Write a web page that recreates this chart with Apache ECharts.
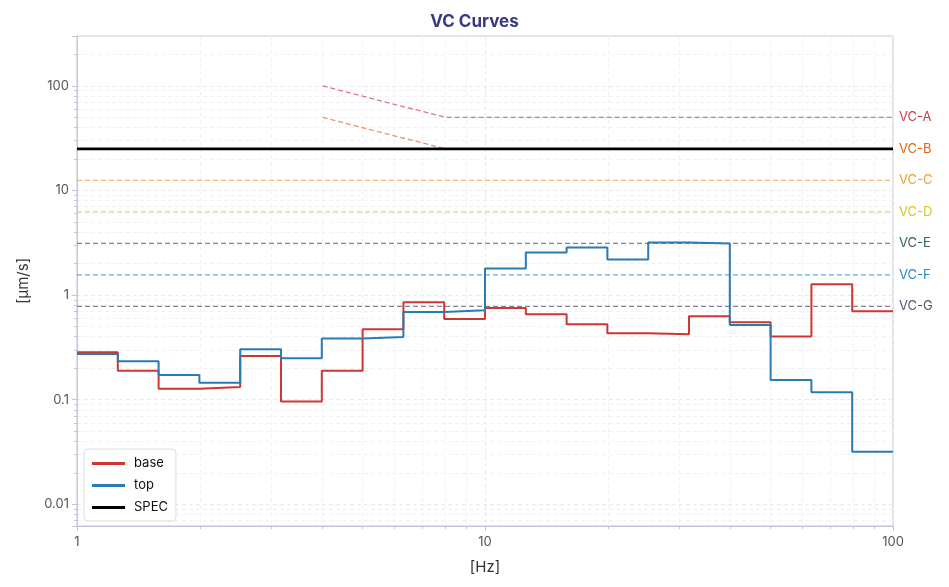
<!DOCTYPE html>
<html>
<head>
<meta charset="utf-8">
<script src="https://cdn.jsdelivr.net/npm/echarts@6/dist/echarts.min.js"></script>
<style>
  html, body { margin: 0; padding: 0; background: #fff; }
  #main { width: 949px; height: 587px; }
</style>
</head>
<body>
<div id="main"></div>
<script>
// 1/3 octave band edges [Hz]
var bandEdges = [1, 1.259, 1.585, 1.995, 2.512, 3.162, 3.981, 5.012, 6.31, 7.943,
  10, 12.59, 15.85, 19.95, 25.12, 31.62, 39.81, 50.12, 63.1, 79.43, 100];
// band values [um/s]
var baseVals = [0.284, 0.189, 0.127, 0.132, 0.261, 0.096, 0.189, 0.471, 0.852, 0.59,
  0.752, 0.655, 0.526, 0.432, 0.423, 0.627, 0.55, 0.401, 1.27, 0.699];
var topVals = [0.274, 0.233, 0.172, 0.145, 0.304, 0.249, 0.384, 0.398, 0.689, 0.715,
  1.795, 2.55, 2.85, 2.19, 3.18, 3.11, 0.518, 0.154, 0.118, 0.0318];
var specLine = [[1, 25], [100, 25]];

// VC criteria
var vcNames = ['VC-A', 'VC-B', 'VC-C', 'VC-D', 'VC-E', 'VC-F', 'VC-G'];
var vcColors = ['#c8404a', '#e0651a', '#f0a030', '#d4c428', '#2f6450', '#2a88c8', '#5a5070'];
var vcA = [[4, 100], [8, 50], [100, 50]];
var vcB = [[4, 50], [8, 25], [100, 25]];
var vcC = [[1, 12.5], [100, 12.5]];
var vcD = [[1, 6.25], [100, 6.25]];
var vcE = [[1, 3.125], [100, 3.125]];
var vcF = [[1, 1.5625], [100, 1.5625]];
var vcG = [[1, 0.78], [100, 0.78]];
var vcData = [vcA, vcB, vcC, vcD, vcE, vcF, vcG];

function steps(vals) {
  var pts = [];
  for (var i = 0; i < bandEdges.length; i++) {
    pts.push([bandEdges[i], vals[Math.min(i, vals.length - 1)]]);
  }
  return pts;
}

var myChart = echarts.init(document.getElementById('main'));

var series = [];
vcNames.forEach(function (name, i) {
  series.push({
    name: name,
    type: 'line',
    data: vcData[i],
    symbol: 'none',
    silent: true,
    z: 1,
    lineStyle: { color: vcColors[i], opacity: 0.7, width: 1.3, type: [5, 3] },
    endLabel: {
      show: true,
      formatter: name,
      color: vcColors[i],
      fontSize: 13,
      fontFamily: 'Inter',
      distance: 6
    }
  });
});
series.push({
  name: 'SPEC', type: 'line', data: specLine, symbol: 'none', z: 3,
  lineStyle: { color: '#000', width: 2.6 }, itemStyle: { color: '#000' }
});
series.push({
  name: 'base', type: 'line', step: 'end', data: steps(baseVals), symbol: 'none', z: 4,
  lineStyle: { color: '#d03535', width: 2 }, itemStyle: { color: '#d03535' }
});
series.push({
  name: 'top', type: 'line', step: 'end', data: steps(topVals), symbol: 'none', z: 5,
  lineStyle: { color: '#2a7ab3', width: 2 }, itemStyle: { color: '#2a7ab3' }
});

var axisColor = '#c4c4d8';
var option = {
  animation: false,
  textStyle: { fontFamily: 'Inter' },
  title: {
    text: 'VC Curves',
    left: 'center', top: 8,
    textStyle: { fontSize: 17, fontWeight: 'bold', color: '#363a82', fontFamily: 'Inter' }
  },
  grid: {
    left: 77, right: 56, top: 36, bottom: 61,
    show: true, borderColor: axisColor, borderWidth: 1
  },
  legend: {
    data: ['base', 'top', 'SPEC'],
    orient: 'vertical',
    left: 84, top: 449,
    icon: 'rect',
    backgroundColor: '#fff',
    borderColor: '#dcdcdc', borderWidth: 1, borderRadius: 4,
    padding: [8, 8, 7, 8],
    itemGap: 9,
    itemWidth: 33, itemHeight: 3,
    textStyle: { fontSize: 13, color: '#111', fontFamily: 'Inter', padding: [0, 0, 0, 4] }
  },
  xAxis: {
    type: 'log', min: 1, max: 100, logBase: 10,
    name: '[Hz]', nameLocation: 'middle', nameGap: 34,
    nameTextStyle: { fontSize: 15, color: '#333' },
    axisLine: { lineStyle: { color: axisColor } },
    axisTick: { show: true, length: 5, lineStyle: { color: axisColor } },
    minorTick: { show: true, splitNumber: 9, length: 3, lineStyle: { color: axisColor } },
    axisLabel: { fontSize: 13, color: '#555', margin: 10 },
    splitLine: { show: true, lineStyle: { color: '#e8e8ee', type: [4, 3] } },
    minorSplitLine: { show: true, lineStyle: { color: '#f1f1f4', type: [4, 3] } }
  },
  yAxis: {
    type: 'log', min: 0.0062, max: 300, logBase: 10,
    name: '[µm/s]', nameLocation: 'middle', nameGap: 46,
    nameTextStyle: { fontSize: 15, color: '#333' },
    axisLine: { show: true, lineStyle: { color: axisColor } },
    axisTick: { show: true, length: 5, lineStyle: { color: axisColor } },
    minorTick: { show: true, splitNumber: 9, length: 3, lineStyle: { color: axisColor } },
    axisLabel: { fontSize: 13, color: '#555', margin: 8, showMinLabel: false, showMaxLabel: false },
    splitLine: { show: true, lineStyle: { color: '#e8e8ee', type: [4, 3] } },
    minorSplitLine: { show: true, lineStyle: { color: '#f1f1f4', type: [4, 3] } }
  },
  series: series
};
myChart.setOption(option);
</script>
</body>
</html>
